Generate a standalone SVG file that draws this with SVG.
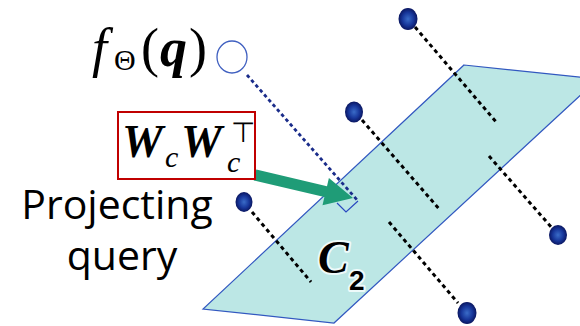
<svg xmlns="http://www.w3.org/2000/svg" width="580" height="326" viewBox="0 0 580 326">
  <defs>
    <radialGradient id="ball" cx="50%" cy="50%" r="50%">
      <stop offset="0" stop-color="#3a6cc8"/>
      <stop offset="0.6" stop-color="#17369a"/>
      <stop offset="1" stop-color="#0a1660"/>
    </radialGradient>
    <style>
      .dash { stroke: #000; stroke-width: 3; stroke-dasharray: 4 3.5; fill: none; }
      .ball { fill: url(#ball); }
      .serif { font-family: "Liberation Serif", "Times New Roman", serif; fill: #000; }
      .label { font-family: "Open Sans", "Liberation Sans", sans-serif; font-size: 41px; fill: #000; text-anchor: middle; }
      .halo { stroke: #eefafa; stroke-width: 4; paint-order: stroke; stroke-linejoin: round; fill: #000; }
    </style>
  </defs>
  <rect width="580" height="326" fill="#fff"/>

  <g id="plane">
    <polygon points="464,65 598,79 334,323 203,309" fill="#bce7e5" stroke="#3258c0" stroke-width="1.2"/>
  </g>

  <g id="connectors">
    <line class="dash" x1="415" y1="27" x2="497" y2="123"/>
    <line class="dash" x1="362" y1="120" x2="440" y2="210"/>
    <line class="dash" x1="252" y1="212" x2="311" y2="282"/>
    <line class="dash" x1="489" y1="156" x2="552" y2="228"/>
    <line class="dash" x1="389" y1="222" x2="458" y2="303"/>
    <line x1="247" y1="75" x2="358" y2="201" stroke="#1a2c8a" stroke-width="2.8" stroke-dasharray="3.5 3"/>
    <polyline points="337,203 346,212 358,201" fill="none" stroke="#2a48c0" stroke-width="1.2"/>
    <polygon points="253.7,180.4 256.3,169.6 327,186.2 328.9,178 353,198 322.5,205.2 324.4,197" fill="#1f9c77"/>
  </g>

  <g id="points">
    <ellipse class="ball" cx="408" cy="19" rx="9.5" ry="11"/>
    <ellipse class="ball" cx="354" cy="112" rx="9" ry="10.5"/>
    <ellipse class="ball" cx="244" cy="202" rx="8.5" ry="10"/>
    <ellipse class="ball" cx="558" cy="235" rx="9" ry="10"/>
    <ellipse class="ball" cx="467" cy="313" rx="9.5" ry="11"/>
  </g>

  <g id="query">
    <ellipse cx="232" cy="57" rx="15" ry="16" fill="#fff" stroke="#4060c0" stroke-width="1.3"/>
    <text class="serif" font-size="54"><tspan x="92" y="66" font-style="italic">f</tspan><tspan x="114" y="70" font-size="30">Θ</tspan><tspan x="141" y="66">(</tspan><tspan x="160" y="66" font-weight="bold" font-style="italic">q</tspan><tspan x="189" y="66">)</tspan></text>
  </g>

  <g id="projection-box">
    <rect x="118" y="112" width="137" height="67" fill="#fff" stroke="#c00000" stroke-width="2"/>
    <text class="serif"><tspan x="122" y="157" font-size="46" font-weight="bold" font-style="italic">W</tspan><tspan x="165" y="167" font-size="30" font-style="italic">c</tspan><tspan x="181" y="157" font-size="46" font-weight="bold" font-style="italic">W</tspan><tspan x="227" y="172" font-size="30" font-style="italic">c</tspan></text>
    <text x="231" y="142" font-family="DejaVu Sans, sans-serif" font-size="28" font-weight="300">⊤</text>
  </g>

  <g id="label-projecting">
    <text class="label" x="117" y="219">Projecting</text>
    <text class="label" x="122" y="270">query</text>
  </g>

  <g id="label-c2">
    <text class="halo" x="318" y="273" font-family="Liberation Serif, serif" font-size="46" font-weight="bold" font-style="italic">C</text>
    <text class="halo" x="349" y="290" font-family="Liberation Sans, sans-serif" font-size="28" font-weight="bold">2</text>
  </g>
</svg>
